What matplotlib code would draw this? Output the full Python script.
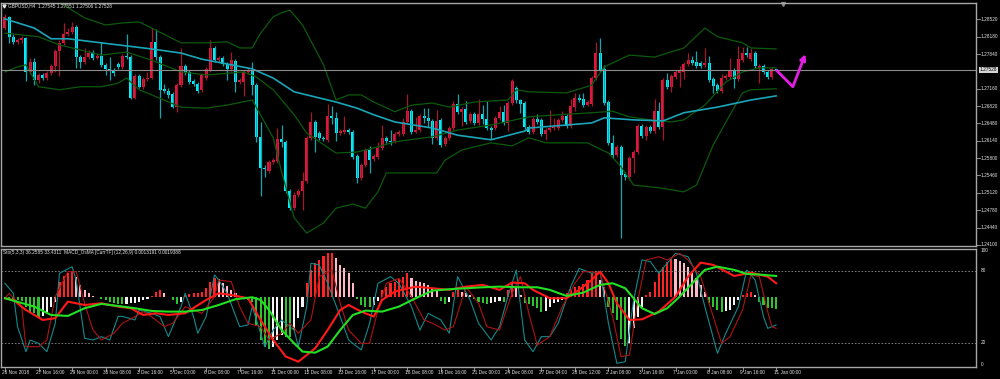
import matplotlib.pyplot as plt
from matplotlib.transforms import blended_transform_factory as blend

# GBPUSD H4, 185 bars (26 Nov 2018 .. 11 Jan 2019)
opens = [1.2835, 1.2857, 1.2818, 1.2808, 1.2812, 1.2816, 1.2749, 1.2769, 1.2733, 1.2743,
         1.2737, 1.2747, 1.2761, 1.2790, 1.2806, 1.2823, 1.2827, 1.2837, 1.2778, 1.2769,
         1.2778, 1.2786, 1.2776, 1.2780, 1.2763, 1.2755, 1.2753, 1.2765, 1.2759, 1.2780,
         1.2778, 1.2698, 1.2741, 1.2720, 1.2735, 1.2737, 1.2808, 1.2778, 1.2716, 1.2712,
         1.2706, 1.2680, 1.2723, 1.2761, 1.2749, 1.2731, 1.2725, 1.2714, 1.2737, 1.2753,
         1.2796, 1.2772, 1.2776, 1.2765, 1.2755, 1.2770, 1.2729, 1.2729, 1.2749, 1.2753,
         1.2723, 1.2622, 1.2561, 1.2555, 1.2572, 1.2574, 1.2618, 1.2612, 1.2516, 1.2482,
         1.2508, 1.2516, 1.2535, 1.2620, 1.2651, 1.2629, 1.2620, 1.2616, 1.2663, 1.2659,
         1.2629, 1.2631, 1.2635, 1.2631, 1.2584, 1.2541, 1.2567, 1.2596, 1.2578, 1.2582,
         1.2600, 1.2620, 1.2614, 1.2614, 1.2627, 1.2627, 1.2651, 1.2672, 1.2631, 1.2635,
         1.2663, 1.2659, 1.2653, 1.2620, 1.2655, 1.2608, 1.2620, 1.2639, 1.2686, 1.2671,
         1.2676, 1.2653, 1.2667, 1.2649, 1.2667, 1.2657, 1.2639, 1.2639, 1.2659, 1.2671,
         1.2649, 1.2688, 1.2718, 1.2694, 1.2688, 1.2641, 1.2631, 1.2657, 1.2655, 1.2627,
         1.2635, 1.2639, 1.2639, 1.2655, 1.2663, 1.2643, 1.2680, 1.2698, 1.2696, 1.2684,
         1.2686, 1.2737, 1.2786, 1.2755, 1.2690, 1.2610, 1.2586, 1.2602, 1.2549, 1.2543,
         1.2580, 1.2592, 1.2643, 1.2623, 1.2641, 1.2633, 1.2672, 1.2641, 1.2733, 1.2720,
         1.2739, 1.2747, 1.2749, 1.2765, 1.2772, 1.2769, 1.2767, 1.2763, 1.2767, 1.2735,
         1.2723, 1.2712, 1.2737, 1.2739, 1.2753, 1.2735, 1.2772, 1.2786, 1.2774, 1.2786,
         1.2757, 1.2761, 1.2749, 1.2739, 1.27545]
highs = [1.2863, 1.2859, 1.2823, 1.2816, 1.2819, 1.2818, 1.2776, 1.2776, 1.2747, 1.2747,
         1.2751, 1.2765, 1.2794, 1.2812, 1.2845, 1.2835, 1.2847, 1.2841, 1.2782, 1.2796,
         1.2792, 1.2792, 1.2784, 1.2808, 1.2767, 1.2778, 1.2757, 1.2769, 1.2784, 1.2823,
         1.2782, 1.2745, 1.2745, 1.2739, 1.2749, 1.2835, 1.2833, 1.2782, 1.2725, 1.2718,
         1.2710, 1.2727, 1.2796, 1.2765, 1.2753, 1.2735, 1.2729, 1.2747, 1.2759, 1.2812,
         1.2800, 1.2780, 1.2780, 1.2769, 1.2788, 1.2774, 1.2737, 1.2753, 1.2757, 1.2769,
         1.2727, 1.2651, 1.2567, 1.2576, 1.2580, 1.2639, 1.2645, 1.2616, 1.2520, 1.2514,
         1.2520, 1.2553, 1.2623, 1.2671, 1.2655, 1.2633, 1.2623, 1.2686, 1.2682, 1.2671,
         1.2637, 1.2663, 1.2639, 1.2635, 1.2588, 1.2571, 1.2600, 1.2604, 1.2588, 1.2612,
         1.2645, 1.2623, 1.2635, 1.2631, 1.2635, 1.2659, 1.2706, 1.2676, 1.2661, 1.2667,
         1.2678, 1.2678, 1.2657, 1.2674, 1.2659, 1.2623, 1.2643, 1.2692, 1.2706, 1.2680,
         1.2692, 1.2671, 1.2671, 1.2696, 1.2684, 1.2692, 1.2643, 1.2663, 1.2682, 1.2684,
         1.2692, 1.2735, 1.2721, 1.2696, 1.2692, 1.2645, 1.2661, 1.2667, 1.2659, 1.2639,
         1.2674, 1.2659, 1.2659, 1.2672, 1.2667, 1.2696, 1.2708, 1.2706, 1.2708, 1.2694,
         1.2741, 1.2808, 1.2816, 1.2763, 1.2694, 1.2625, 1.2606, 1.2606, 1.2553, 1.2584,
         1.2596, 1.2647, 1.2647, 1.2645, 1.2645, 1.2696, 1.2690, 1.2737, 1.2747, 1.2745,
         1.2753, 1.2761, 1.2769, 1.2786, 1.2780, 1.2790, 1.2770, 1.2796, 1.2780, 1.2739,
         1.2727, 1.2745, 1.2745, 1.2776, 1.2757, 1.2800, 1.2798, 1.2798, 1.2796, 1.2790,
         1.2765, 1.2765, 1.2753, 1.2759, 1.27551]
lows = [1.2831, 1.2806, 1.2804, 1.2804, 1.2806, 1.2731, 1.2745, 1.2723, 1.2727, 1.2733,
        1.2733, 1.2743, 1.2749, 1.2741, 1.2802, 1.2819, 1.2823, 1.2757, 1.2757, 1.2765,
        1.2774, 1.2772, 1.2774, 1.2759, 1.2743, 1.2733, 1.2741, 1.2755, 1.2755, 1.2774,
        1.2696, 1.2696, 1.2718, 1.2716, 1.2731, 1.2735, 1.2772, 1.2659, 1.2708, 1.2698,
        1.2678, 1.2671, 1.2720, 1.2743, 1.2725, 1.2721, 1.2708, 1.2710, 1.2733, 1.2749,
        1.2769, 1.2769, 1.2761, 1.2733, 1.2751, 1.2710, 1.2725, 1.2702, 1.2745, 1.2704,
        1.2612, 1.2506, 1.2543, 1.2551, 1.2569, 1.2571, 1.2602, 1.2512, 1.2478, 1.2478,
        1.2504, 1.2478, 1.2531, 1.2616, 1.2592, 1.2616, 1.2614, 1.2612, 1.2647, 1.2614,
        1.2625, 1.2627, 1.2627, 1.2578, 1.2531, 1.2537, 1.2563, 1.2551, 1.2574, 1.2578,
        1.2596, 1.2610, 1.2606, 1.2610, 1.2623, 1.2623, 1.2647, 1.2627, 1.2629, 1.2631,
        1.2649, 1.2641, 1.2608, 1.2616, 1.2602, 1.2604, 1.2616, 1.2635, 1.2667, 1.2643,
        1.2647, 1.2649, 1.2645, 1.2645, 1.2647, 1.2635, 1.2618, 1.2635, 1.2655, 1.2645,
        1.2633, 1.2684, 1.2688, 1.2669, 1.2637, 1.2627, 1.2627, 1.2647, 1.2623, 1.2616,
        1.2631, 1.2635, 1.2635, 1.2651, 1.2639, 1.2639, 1.2672, 1.2690, 1.2680, 1.2682,
        1.2682, 1.2733, 1.2749, 1.2684, 1.2606, 1.2580, 1.2582, 1.2424, 1.2537, 1.2537,
        1.2551, 1.2588, 1.2620, 1.2616, 1.2629, 1.2629, 1.2637, 1.2616, 1.2716, 1.2710,
        1.2735, 1.2720, 1.2735, 1.2761, 1.2763, 1.2757, 1.2757, 1.2759, 1.2729, 1.2708,
        1.2708, 1.2708, 1.2733, 1.2735, 1.2718, 1.2731, 1.2769, 1.2778, 1.2770, 1.2757,
        1.2727, 1.2745, 1.2735, 1.2735, 1.27506]
closes = [1.2857, 1.2818, 1.2808, 1.2812, 1.2816, 1.2749, 1.2769, 1.2733, 1.2743, 1.2737,
          1.2747, 1.2761, 1.2790, 1.2806, 1.2823, 1.2827, 1.2837, 1.2778, 1.2769, 1.2778,
          1.2786, 1.2776, 1.2780, 1.2763, 1.2755, 1.2753, 1.2747, 1.2759, 1.2780, 1.2778,
          1.2698, 1.2741, 1.2720, 1.2735, 1.2737, 1.2808, 1.2778, 1.2714, 1.2712, 1.2704,
          1.2680, 1.2723, 1.2761, 1.2747, 1.2729, 1.2725, 1.2712, 1.2743, 1.2755, 1.2796,
          1.2772, 1.2776, 1.2765, 1.2755, 1.2772, 1.2729, 1.2733, 1.2749, 1.2753, 1.2723,
          1.2622, 1.2561, 1.2559, 1.2572, 1.2576, 1.2618, 1.2612, 1.2516, 1.2482, 1.2508,
          1.2516, 1.2535, 1.2620, 1.2651, 1.2622, 1.2620, 1.2618, 1.2663, 1.2659, 1.2629,
          1.2633, 1.2635, 1.2631, 1.2582, 1.2541, 1.2567, 1.2596, 1.2576, 1.2584, 1.2600,
          1.2620, 1.2614, 1.2612, 1.2627, 1.2631, 1.2651, 1.2672, 1.2631, 1.2635, 1.2663,
          1.2659, 1.2653, 1.2620, 1.2653, 1.2606, 1.2620, 1.2639, 1.2686, 1.2671, 1.2676,
          1.2651, 1.2667, 1.2649, 1.2667, 1.2657, 1.2639, 1.2635, 1.2659, 1.2671, 1.2649,
          1.2688, 1.2731, 1.2694, 1.2686, 1.2641, 1.2631, 1.2657, 1.2651, 1.2627, 1.2635,
          1.2639, 1.2641, 1.2655, 1.2663, 1.2643, 1.2682, 1.2698, 1.2694, 1.2684, 1.2690,
          1.2737, 1.2786, 1.2753, 1.2688, 1.2610, 1.2586, 1.2602, 1.2547, 1.2543, 1.2580,
          1.2592, 1.2643, 1.2623, 1.2641, 1.2633, 1.2672, 1.2641, 1.2733, 1.2720, 1.2741,
          1.2749, 1.2751, 1.2765, 1.2772, 1.2767, 1.2761, 1.2761, 1.2767, 1.2733, 1.2721,
          1.2712, 1.2737, 1.2741, 1.2753, 1.2735, 1.2774, 1.2786, 1.2782, 1.2786, 1.2761,
          1.2761, 1.2749, 1.2739, 1.2755, 1.27528]

# Bollinger bands and moving average, read at sample bars
bb_up_idx = [0, 6, 12, 14, 19, 24, 28, 32, 35, 42, 48, 53, 56, 59, 61, 64, 66, 68, 71, 76,
             79, 82, 85, 88, 93, 97, 102, 106, 112, 120, 122, 125, 134, 140, 143, 149, 155,
             158, 162, 167, 170, 176, 178, 184]
bb_up = [1.2929, 1.2910, 1.2886, 1.2880, 1.2855, 1.2841, 1.2845, 1.2847, 1.2835, 1.2806,
         1.2806, 1.2808, 1.2796, 1.2796, 1.2825, 1.2857, 1.2865, 1.2870, 1.2841, 1.2763,
         1.2694, 1.2704, 1.2704, 1.2690, 1.2671, 1.2684, 1.2688, 1.2680, 1.2690, 1.2694,
         1.2714, 1.2710, 1.2708, 1.2723, 1.2759, 1.2782, 1.2778, 1.2786, 1.2796, 1.2835,
         1.2818, 1.2806, 1.2796, 1.2794]
bb_mid_idx = [0, 8, 13, 18, 23, 29, 35, 42, 48, 57, 60, 64, 69, 72, 79, 84, 88, 93, 102, 108,
              116, 125, 132, 140, 145, 149, 154, 159, 162, 167, 172, 176, 180, 184]
bb_mid = [1.2825, 1.2818, 1.2802, 1.2792, 1.2782, 1.2788, 1.2772, 1.2749, 1.2743, 1.2749,
          1.2739, 1.2714, 1.2665, 1.2629, 1.2590, 1.2592, 1.2600, 1.2612, 1.2622, 1.2635,
          1.2645, 1.2661, 1.2665, 1.2669, 1.2672, 1.2661, 1.2655, 1.2651, 1.2655, 1.2684,
          1.2729, 1.2749, 1.2757, 1.2757]
bb_lo_idx = [0, 3, 5, 8, 13, 18, 23, 27, 29, 32, 35, 42, 48, 53, 59, 64, 66, 69, 72, 76,
             79, 83, 86, 89, 91, 97, 103, 105, 109, 116, 121, 125, 129, 139, 144, 147, 150,
             156, 162, 165, 169, 173, 176, 178, 184]
bb_lo = [1.2749, 1.2759, 1.2763, 1.2720, 1.2714, 1.2720, 1.2720, 1.2727, 1.2737, 1.2714,
         1.2704, 1.2680, 1.2678, 1.2684, 1.2694, 1.2620, 1.2553, 1.2463, 1.2433, 1.2453,
         1.2482, 1.2490, 1.2482, 1.2514, 1.2551, 1.2551, 1.2551, 1.2576, 1.2596, 1.2610,
         1.2604, 1.2620, 1.2610, 1.2610, 1.2590, 1.2563, 1.2527, 1.2522, 1.2514, 1.2527,
         1.2606, 1.2665, 1.2708, 1.2714, 1.2716]
ma_idx = [0, 7, 11, 15, 23, 35, 42, 47, 54, 59, 64, 69, 79, 84, 88, 93, 102, 108, 116, 124,
          125, 140, 143, 150, 157, 162, 170, 178, 184]
ma_vals = [1.2853, 1.2835, 1.2814, 1.2814, 1.2806, 1.2794, 1.2786, 1.2774, 1.2763, 1.2755,
           1.2737, 1.2710, 1.2690, 1.2678, 1.2665, 1.2651, 1.2639, 1.2625, 1.2616, 1.2633,
           1.2639, 1.2649, 1.2659, 1.2655, 1.2653, 1.2669, 1.2680, 1.2694, 1.2702]

# OsMA histogram, one value per bar (x 1e-4)
osma = [-0.9, -1.2, -1.2, -2.5, -3.1, -8.6, -13.2, -14.7, -17.8, -17.2,
        -13.2, -8.6, -4.0, 14.4, 19.6, 22.1, 24.6, 18.4, 11.4, 6.8,
        3.7, 1.5, 0.6, -1.2, -2.5, -4.0, -5.5, -6.1, -6.4, -6.1,
        -5.5, -4.9, -4.0, -2.5, -1.2, 1.2, 5.2, 6.8, 3.7, 0.6,
        -2.5, -6.1, -4.0, 2.1, 3.1, 3.7, 4.3, 5.2, 8.3, 14.4,
        17.5, 16.6, 13.5, 10.4, 6.8, 3.7, 0.6, -1.2, -2.5, -4.0,
        -25.5, -39.3, -45.4, -47.9, -45.4, -39.3, -34.7, -36.2, -36.8, -30.1,
        -19.3, -8.6, 12.9, 25.2, 31.3, 34.4, 38.1, 40.5, 41.1, 35.9,
        29.8, 26.7, 22.1, 12.9, -1.8, -7.1, -8.6, -9.2, -7.1, -3.1,
        6.8, 9.8, 12.9, 14.4, 16.6, 19.0, 22.1, 17.5, 15.4, 14.4,
        13.5, 11.4, 8.3, 6.8, -3.1, -6.1, -4.0, 5.2, 6.8, 5.2,
        3.7, 2.1, -1.8, -4.0, -5.5, -6.1, -5.5, -4.0, -3.4, -4.3,
        6.8, 13.5, 8.3, 2.1, -4.9, -6.1, -8.0, -10.1, -13.2, -12.3,
        -8.6, -5.5, -4.0, -2.5, 3.7, 7.4, 9.8, 10.7, 12.0, 16.0,
        22.7, 24.6, 16.0, 9.8, -8.6, -14.7, -20.9, -38.7, -44.8, -42.4,
        -28.6, -17.8, -8.6, 2.1, 5.2, 14.4, 22.1, 28.2, 32.8, 35.6,
        35.0, 33.8, 31.3, 28.2, 23.6, 17.5, 11.4, 5.2, -5.5, -8.6,
        -11.7, -13.2, -12.3, -11.7, -7.1, -2.5, 2.1, 3.7, 5.2, 2.1,
        -4.0, -7.1, -9.5, -10.1, -10.7]

# MACD main (red) and signal (green) lines (x 1e-4)
macd_idx = [0, 2, 5, 9, 12, 15, 19, 23, 27, 30, 33, 36, 39, 43, 48, 51, 54, 58, 61, 64,
            67, 70, 74, 77, 80, 82, 85, 88, 90, 93, 98, 102, 106, 110, 114, 118, 121, 124,
            126, 130, 134, 137, 140, 142, 144, 146, 149, 152, 156, 160, 163, 166, 169, 174,
            178, 182, 184]
macd_vals = [-0.9, -2.5, -11.7, -20.9, -19.3, -4.0, -7.1, -5.5, -8.6, -10.1, -16.3, -14.7,
             -16.3, -14.7, -2.5, 3.7, 2.1, -0.9, -20.9, -39.3, -54.6, -59.3, -47.0, -30.1,
             -11.7, -7.1, -13.2, -17.8, -2.5, 5.2, 9.8, 8.3, 6.8, 9.8, 11.4, 6.8, 13.5,
             12.9, 6.8, -0.9, -0.9, 6.8, 16.0, 23.6, 12.9, -5.5, -20.9, -20.3, -13.2, 0.6,
             19.0, 31.9, 29.8, 19.6, 22.7, 19.0, 12.9]
sig_idx = [0, 7, 11, 15, 19, 23, 27, 31, 35, 39, 43, 47, 51, 55, 59, 61, 63, 66, 69, 71,
           74, 77, 80, 83, 86, 90, 94, 98, 102, 106, 110, 114, 118, 123, 127, 130, 134, 138,
           142, 145, 148, 150, 152, 155, 158, 161, 164, 167, 170, 174, 177, 180, 184]
sig_vals = [-0.9, -8.6, -16.3, -17.2, -10.1, -6.1, -8.0, -10.1, -12.6, -13.2, -13.2, -11.7,
            -7.1, -1.8, 0.0, -2.5, -11.7, -30.1, -42.4, -50.0, -51.0, -45.4, -30.1, -16.3,
            -12.3, -13.2, -8.6, -0.9, 6.1, 7.4, 8.3, 9.2, 9.8, 9.2, 9.2, 6.8, 1.2, 4.3, 11.4,
            12.9, 8.3, -0.9, -10.1, -15.4, -10.1, 0.6, 12.9, 25.2, 28.2, 25.2, 21.5, 20.9,
            19.6]

# Stochastic %K (teal) and %D (dark red)
sto_k_idx = [0, 2, 3, 5, 6, 8, 10, 12, 13, 16, 17, 19, 21, 23, 25, 27, 28, 31, 32, 35,
             37, 39, 42, 43, 45, 46, 48, 50, 51, 53, 56, 58, 59, 61, 62, 64, 66, 69, 70, 72,
             73, 75, 77, 80, 82, 85, 87, 89, 92, 94, 97, 99, 101, 104, 106, 108, 111, 113,
             116, 118, 120, 122, 124, 126, 128, 130, 132, 135, 137, 140, 142, 144, 146, 148,
             150, 152, 154, 156, 158, 160, 163, 165, 167, 170, 172, 175, 177, 179, 181, 182,
             184]
sto_k = [69.7, 61.4, 33.6, 12.8, 22.5, 19.7, 12.8, 36.4, 78.1, 83.6, 72.5, 23.9, 22.5, 25.3,
         22.5, 42.2, 42.2, 39.2, 47.5, 44.7, 41.9, 25.3, 50.3, 61.4, 41.9, 28.1, 41.9, 76.7,
         72.5, 61.4, 33.6, 35.0, 50.3, 28.1, 16.9, 30.8, 39.2, 30.8, 16.9, 50.3, 86.4, 85.0,
         69.7, 41.9, 22.5, 14.2, 36.4, 69.7, 75.3, 69.7, 50.3, 30.8, 44.7, 39.2, 28.1, 75.3,
         55.8, 36.4, 22.5, 33.6, 58.6, 80.8, 22.5, 12.8, 25.3, 25.3, 36.4, 66.9, 82.2, 78.1,
         79.4, 36.4, 3.1, 4.4, 55.8, 89.2, 87.8, 78.1, 86.4, 94.7, 91.9, 78.1, 50.3, 11.4,
         28.1, 50.3, 80.8, 72.5, 41.9, 32.2, 35.0]
sto_d_idx = [0, 1, 4, 5, 8, 10, 12, 15, 17, 19, 21, 23, 26, 28, 31, 33, 35, 38, 40, 43,
             45, 47, 50, 51, 54, 56, 58, 61, 63, 66, 68, 70, 73, 75, 78, 80, 82, 85, 87, 89,
             91, 94, 97, 100, 102, 105, 107, 110, 113, 115, 118, 121, 123, 125, 127, 130,
             133, 136, 138, 140, 142, 145, 147, 149, 151, 153, 156, 158, 161, 163, 166, 168,
             171, 173, 176, 178, 180, 182, 183, 184]
sto_d = [57.2, 61.4, 50.3, 16.9, 16.9, 22.5, 58.6, 79.4, 79.4, 53.1, 30.8, 22.5, 28.1, 36.4,
         41.9, 46.1, 41.9, 33.6, 36.4, 50.3, 47.5, 44.7, 58.6, 72.5, 71.1, 50.3, 36.4, 33.6,
         22.5, 28.1, 36.4, 28.1, 39.2, 75.3, 80.8, 53.1, 30.8, 19.7, 19.7, 47.5, 69.7, 73.9,
         58.6, 39.2, 36.4, 30.8, 33.6, 66.9, 53.1, 33.6, 30.8, 61.4, 75.3, 44.7, 18.3, 25.3,
         50.3, 69.7, 79.4, 79.4, 78.1, 41.9, 8.6, 10.0, 55.8, 89.2, 91.9, 89.2, 94.7, 89.2,
         75.3, 53.1, 19.7, 25.3, 47.5, 76.7, 75.3, 46.1, 33.6, 32.2]

price_ticks = ['1.28520', '1.28180', '1.27840', '1.27160', '1.26820', '1.26480', '1.26140',
               '1.25800', '1.25460', '1.25120', '1.24780', '1.24440', '1.24100']
time_idx = [0, 8, 16, 24, 32, 40, 48, 56, 64, 72, 80, 88, 96, 104, 112, 120, 128, 136,
            144, 152, 160, 168, 176, 184]
time_labels = ['26 Nov 2018', '27 Nov 16:00', '29 Nov 00:00', '30 Nov 08:00', '3 Dec 16:00',
               '5 Dec 00:00', '6 Dec 08:00', '7 Dec 16:00', '11 Dec 00:00', '12 Dec 08:00',
               '13 Dec 16:00', '17 Dec 00:00', '18 Dec 08:00', '19 Dec 16:00', '21 Dec 00:00',
               '24 Dec 08:00', '27 Dec 04:00', '28 Dec 12:00', '2 Jan 08:00', '3 Jan 16:00',
               '7 Jan 00:00', '8 Jan 08:00', '9 Jan 16:00', '11 Jan 00:00']
sto_levels = [100, 80, 20, 0]

# hand-drawn forecast arrow (bar index, price)
arrow_idx = [184, 188, 191]
arrow_px = [1.2753, 1.2720, 1.2784]

W, H = 1000, 379
X0, X1 = -0.95, 231.7
FRAME = '#a6a6a6'
TXT = '#e4e4e4'
FONT = 'Liberation Sans'
FS = 3.4


def rect(left, top, right, bottom):
    return [left / W, 1 - bottom / H, (right - left) / W, (bottom - top) / H]


def plain(ax, frame=True):
    ax.set_facecolor('none')
    ax.set_xticks([])
    ax.set_yticks([])
    ax.set_xlim(X0, X1)
    for s in ax.spines.values():
        s.set_visible(frame)
        s.set_color(FRAME)
        s.set_linewidth(1.0)


def draw():
    fig = plt.figure(figsize=(W / 100, H / 100), dpi=100, facecolor='black')

    # ---- price panel ----
    ax = fig.add_axes(rect(1, 2.5, 976, 246))
    plain(ax)
    ax.set_ylim(1.24078, 1.28851)
    tr = blend(ax.transAxes, ax.transData)

    bars = range(len(closes))
    bull = [c >= o for o, c in zip(opens, closes)]
    ax.vlines(bars, lows, highs, colors=['#a3182f' if b else '#14a4ad' for b in bull], lw=0.9)
    ax.bar(bars, [max(abs(c - o), 0.00012) for o, c in zip(opens, closes)],
           bottom=[min(o, c) for o, c in zip(opens, closes)], width=0.72,
           color=['#e3173e' if b else '#00f2ff' for b in bull], linewidth=0)

    for xs, ys in [(bb_up_idx, bb_up), (bb_mid_idx, bb_mid), (bb_lo_idx, bb_lo)]:
        ax.plot(xs, ys, color='#0c5a0c', lw=0.9)
    ax.plot(ma_idx, ma_vals, color='#1aa6b8', lw=1.2)

    last = closes[-1]
    ax.axhline(last, color='#8c8c8c', lw=0.8)

    ax.plot(arrow_idx[:2], arrow_px[:2], color='#e41fe4', lw=2.0, solid_capstyle='butt')
    ax.annotate('', xy=(arrow_idx[2], arrow_px[2]), xytext=(arrow_idx[1], arrow_px[1]),
                arrowprops=dict(arrowstyle='-|>', color='#e41fe4', lw=2.0, mutation_scale=8,
                                shrinkA=0, shrinkB=0))

    for lab in price_ticks:
        p = float(lab)
        ax.plot([1.0, 1.004], [p, p], transform=tr, color=FRAME, lw=0.6, clip_on=False)
        ax.text(1.005, p, lab, transform=tr, color=TXT, fontsize=FS, family=FONT,
                va='center', ha='left', clip_on=False)
    ax.text(1.004, last, f'{last:.5f}', transform=tr, color='black', fontsize=FS, family=FONT,
            va='center', ha='left', clip_on=False,
            bbox=dict(facecolor='#d4d4d4', edgecolor='none', pad=0.5))

    fig.text(8 / W, 1 - 5.5 / H,
             f'GBPUSD,H4  {opens[-1]:.5f} {highs[-1]:.5f} {lows[-1]:.5f} {closes[-1]:.5f}',
             color=TXT, fontsize=FS, family=FONT, va='center', ha='left')
    ax.plot([4 / W], [1 - 5.5 / H], marker='v', ms=2.2, color=TXT, transform=fig.transFigure,
            clip_on=False)
    ax.plot([783 / W], [1 - 3.5 / H], marker='v', ms=2.8, color='#8a8a8a',
            transform=fig.transFigure, clip_on=False)

    # ---- oscillator panel: histogram, stochastic, MACD lines ----
    sub = rect(1, 248.5, 976, 367)
    axh = fig.add_axes(sub)
    plain(axh)
    axh.set_ylim(-64.2, 44.9)
    hist_col = []
    prev = 0.0
    for v in osma:
        if v >= 0:
            hist_col.append('#ff2323' if v >= prev else '#ffb9c6')
        else:
            hist_col.append('#2fc42f' if v <= prev else '#f4f4f4')
        prev = v
    axh.bar(range(len(osma)), osma, width=0.5, color=hist_col, linewidth=0)

    axs = fig.add_axes(sub)
    plain(axs, frame=False)
    axs.set_ylim(0, 98.75)
    for lvl in (80, 20):
        axs.axhline(lvl, color='#8a8a8a', lw=0.6, ls=(0, (2, 2)))
    axs.plot(sto_k_idx, sto_k, color='#138a8c', lw=0.8)
    axs.plot(sto_d_idx, sto_d, color='#b01313', lw=0.8)

    axm = fig.add_axes(sub)
    plain(axm, frame=False)
    axm.set_ylim(-64.2, 44.9)
    axm.plot(macd_idx, macd_vals, color='#ff1a1a', lw=1.5)
    axm.plot(sig_idx, sig_vals, color='#22e022', lw=1.5)

    trs = blend(axs.transAxes, axs.transData)
    for lvl in sto_levels:
        va = 'top' if lvl == 100 else ('bottom' if lvl == 0 else 'center')
        axs.text(1.005, min(lvl, 98.75), str(lvl), transform=trs, color=TXT, fontsize=FS,
                 family=FONT, va=va, ha='left', clip_on=False)

    fig.text(3 / W, 1 - 252.5 / H,
             'Sto(5,3,3) 36.2585 33.4311  MACD_OsMA [CurrTF] (12,26,9) 0.0013191 0.0019388',
             color=TXT, fontsize=FS, family=FONT, va='center', ha='left')

    trt = blend(axh.transData, axh.transAxes)
    for i, lab in zip(time_idx, time_labels):
        axh.plot([i, i], [0, -0.03], transform=trt, color=FRAME, lw=0.6, clip_on=False)
        axh.text(i - 0.6, -0.045, lab, transform=trt, color=TXT, fontsize=FS, family=FONT,
                 va='center', ha='left', clip_on=False)

    fig.savefig('out.png', dpi=100, facecolor='black')


if __name__ == '__main__':
    draw()
